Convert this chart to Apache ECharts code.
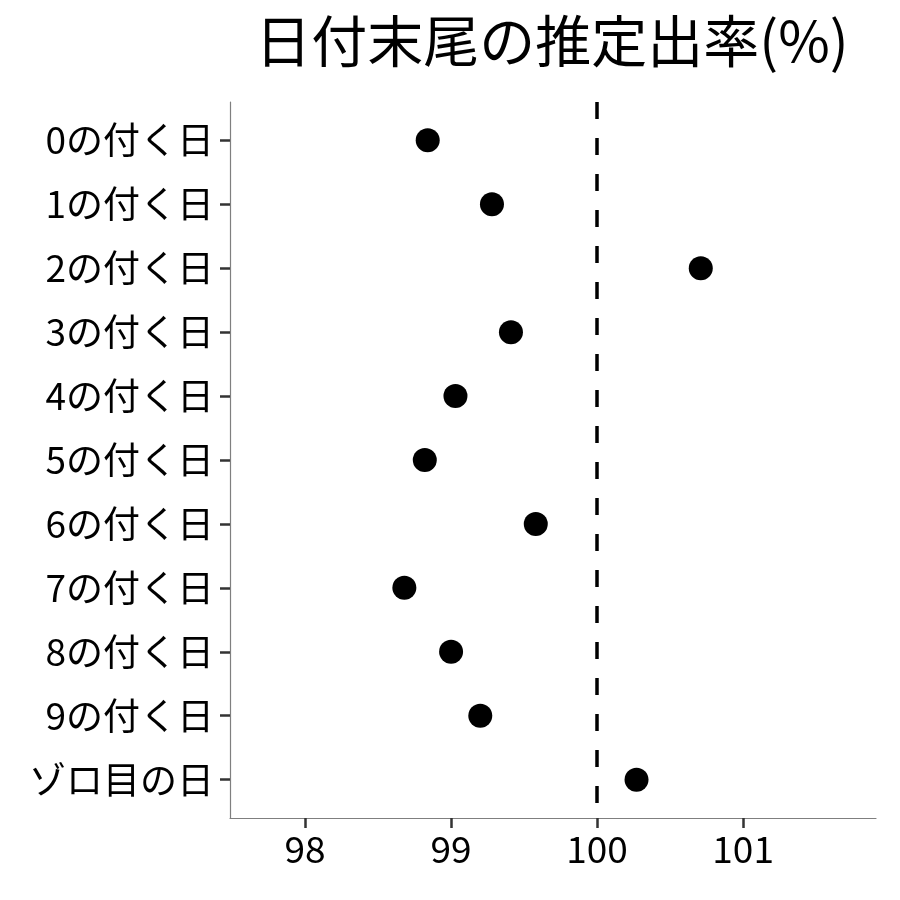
<!DOCTYPE html>
<html><head><meta charset="utf-8">
<script src="https://cdn.jsdelivr.net/npm/echarts@6/dist/echarts.min.js"></script>
<style>html,body{margin:0;padding:0;background:#fff}#c{width:900px;height:900px}</style>
</head><body><div id="c"></div>
<script>
const titleText = "日付末尾の推定出率(%)";
const categories = ["0の付く日","1の付く日","2の付く日","3の付く日","4の付く日","5の付く日","6の付く日","7の付く日","8の付く日","9の付く日","ゾロ目の日"];
const rates = [98.84, 99.28, 100.71, 99.41, 99.03, 98.82, 99.58, 98.68, 99.00, 99.20, 100.27];
const xTicks = [98, 99, 100, 101];
const refValue = 100;

const font = '"Noto Sans CJK JP", "Noto Sans", sans-serif';
const chart = echarts.init(document.getElementById('c'), null, {renderer: 'canvas'});
const idx = categories.map((_, i) => i);
chart.setOption({
  animation: false,
  backgroundColor: '#fff',
  title: {
    text: titleText, left: 547, top: 8, textAlign: 'center',
    textStyle: {fontFamily: font, fontSize: 56, fontWeight: 'normal', color: '#000'}
  },
  grid: {left: 230, right: 24, top: 102, bottom: 82, containLabel: false},
  xAxis: {
    type: 'value', min: 97.486, max: 101.91,
    axisLine: {show: true, onZero: false, lineStyle: {color: '#7f7f7f', width: 1.2}},
    axisTick: {show: true, length: 10, lineStyle: {color: '#333', width: 2.5}, customValues: xTicks},
    axisLabel: {customValues: xTicks, fontFamily: font, fontSize: 37, color: '#000', margin: 12},
    splitLine: {show: false}
  },
  yAxis: {
    type: 'value', min: -0.6, max: 10.6, inverse: true,
    axisLine: {show: true, onZero: false, lineStyle: {color: '#7f7f7f', width: 1.2}},
    axisTick: {show: true, length: 10, lineStyle: {color: '#333', width: 2.5}, customValues: idx},
    axisLabel: {customValues: idx, formatter: v => categories[Math.round(v)] || '', fontFamily: font, fontSize: 37, color: '#000', margin: 16},
    splitLine: {show: false}
  },
  series: [{
    type: 'scatter',
    data: rates.map((v, i) => [v, i]),
    symbol: 'circle', symbolSize: 24,
    itemStyle: {color: '#000', opacity: 1},
    markLine: {
      silent: true, symbol: 'none', label: {show: false},
      lineStyle: {color: '#000', width: 3.5, type: [17, 19], opacity: 1},
      data: [{xAxis: refValue}]
    }
  }]
});
</script></body></html>
